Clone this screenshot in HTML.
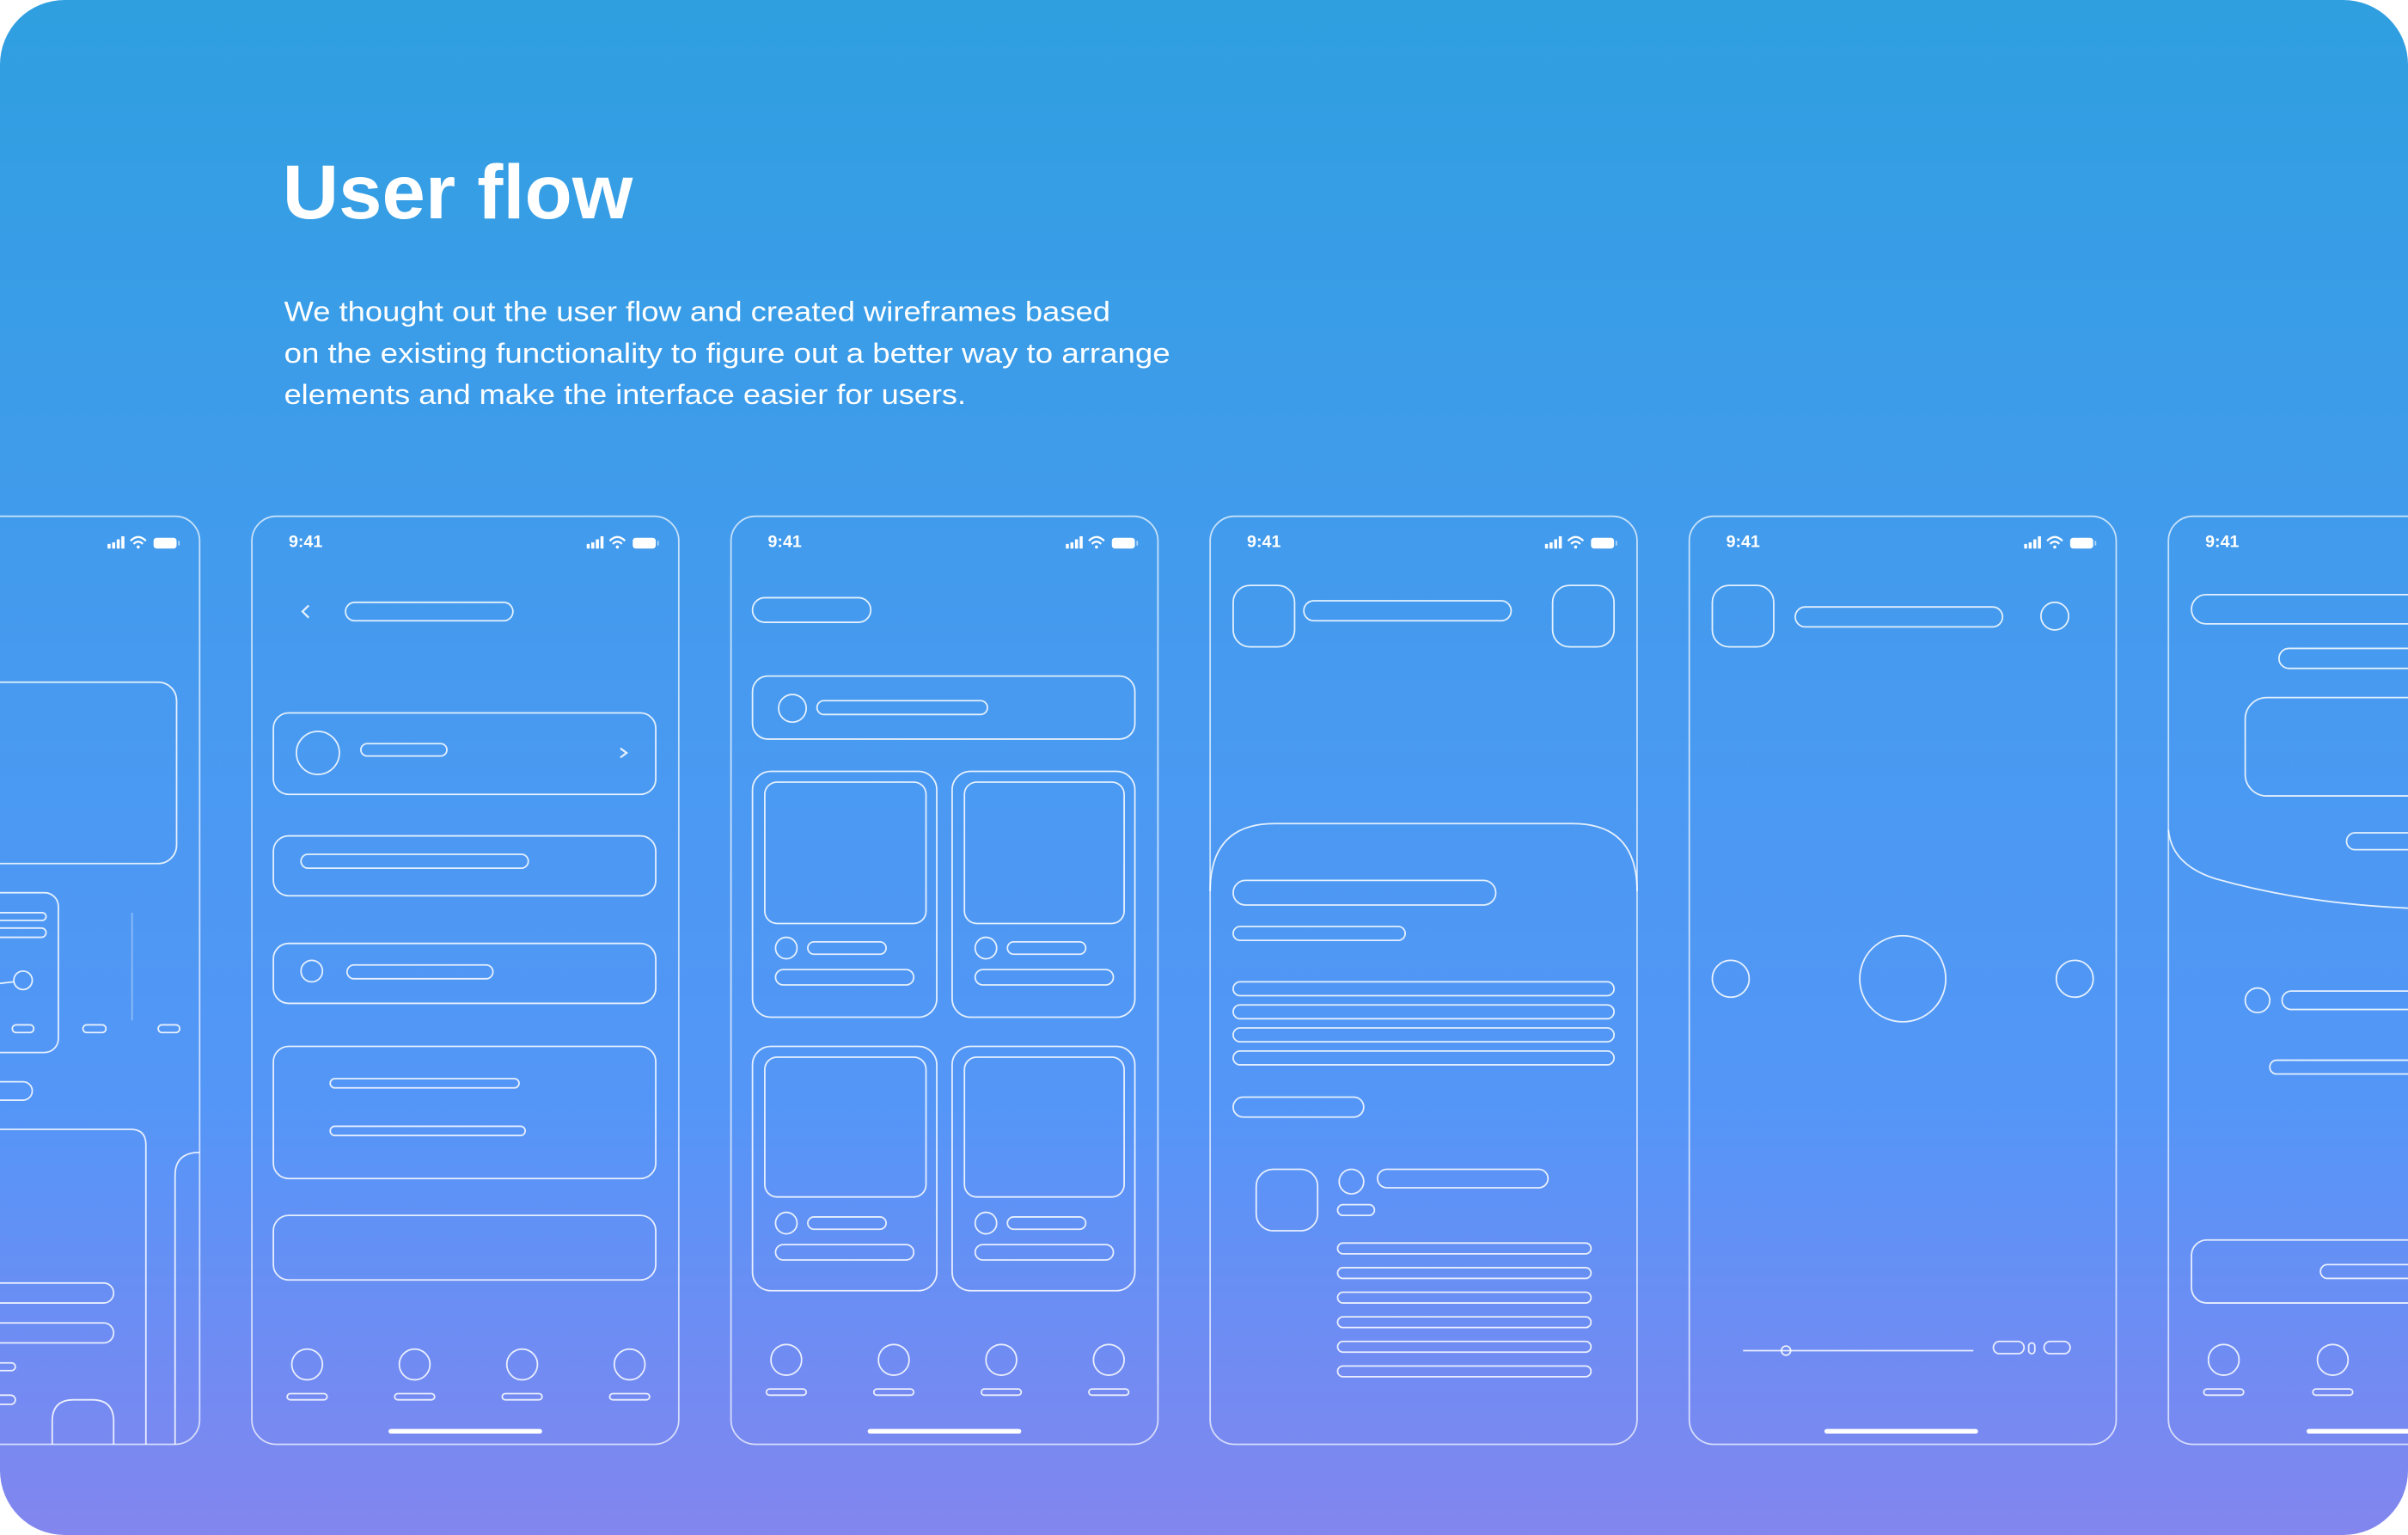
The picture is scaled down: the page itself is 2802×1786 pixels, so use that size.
<!DOCTYPE html>
<html><head><meta charset="utf-8"><style>
html,body{margin:0;padding:0;background:#fff;}
svg{display:block;}
text{font-family:"Liberation Sans",sans-serif;fill:#fff;}
</style></head><body>
<svg width="2802" height="1786" viewBox="0 0 1568 999" preserveAspectRatio="none" xmlns="http://www.w3.org/2000/svg">
<defs>
<linearGradient id="bg" x1="0" y1="0" x2="0" y2="1">
<stop offset="0" stop-color="#2f9fe0"/>
<stop offset="0.45" stop-color="#479af0"/>
<stop offset="0.72" stop-color="#5496f7"/>
<stop offset="0.88" stop-color="#6f8cf3"/>
<stop offset="1" stop-color="#8286ee"/>
</linearGradient>
<clipPath id="cl"><rect x="0" y="0" width="1568" height="999" rx="42"/></clipPath>
<symbol id="st" viewBox="0 0 50 10" width="50" height="10">
<rect x="0" y="6" width="2" height="3" fill="#fff"/><rect x="3" y="5" width="2" height="4" fill="#fff"/><rect x="6" y="3" width="2" height="6" fill="#fff"/><rect x="9" y="1" width="2" height="8" fill="#fff"/>
<path d="M15 4 Q20 -1 25 4 M17 6 Q20 3 23 6" stroke="#fff" stroke-width="1.3" fill="none"/><circle cx="20" cy="8" r="1" fill="#fff"/>
<rect x="30" y="2" width="15" height="7" rx="2" fill="#fff"/><rect x="46" y="4" width="1" height="3" fill="#fff" opacity="0.6"/>
</symbol>
</defs>
<g clip-path="url(#cl)">
<rect width="1568" height="999" fill="url(#bg)"/>
<text x="184" y="142" font-size="50" font-weight="bold" textLength="228" lengthAdjust="spacingAndGlyphs">User flow</text>
<text x="185" y="209" font-size="18" textLength="538" lengthAdjust="spacingAndGlyphs">We thought out the user flow and created wireframes based</text>
<text x="185" y="236" font-size="18" textLength="577" lengthAdjust="spacingAndGlyphs">on the existing functionality to figure out a better way to arrange</text>
<text x="185" y="263" font-size="18" textLength="444" lengthAdjust="spacingAndGlyphs">elements and make the interface easier for users.</text>

<g fill="none" stroke="#fff" stroke-opacity="0.85" stroke-width="1">
<!-- phone 0 partial -->
<rect x="-148" y="336" width="278" height="604" rx="16" stroke-opacity="0.7"/>
<rect x="-60" y="444" width="175" height="118" rx="12"/>
<rect x="-40" y="581" width="78" height="104" rx="9"/>
<rect x="-10" y="594" width="40" height="5" rx="2.5"/><rect x="-10" y="604" width="40" height="6" rx="3"/>
<circle cx="15" cy="638" r="6"/><line x1="0" y1="640" x2="9" y2="639"/>
<rect x="8" y="667" width="14" height="5" rx="2.5"/><rect x="54" y="667" width="15" height="5" rx="2.5"/><rect x="103" y="667" width="14" height="5" rx="2.5"/>
<line x1="86" y1="594" x2="86" y2="664" stroke-opacity="0.35"/>
<rect x="-20" y="704" width="41" height="12" rx="6"/>
<path d="M-10 940 V735 H85 Q95 735 95 745 V940"/>
<path d="M130 750 Q114 750 114 765 V940"/>
<rect x="-40" y="835" width="114" height="13" rx="6.5"/><rect x="-40" y="861" width="114" height="13" rx="6.5"/>
<rect x="-10" y="887" width="20" height="5" rx="2.5"/><rect x="-10" y="908" width="20" height="6" rx="3"/>
<path d="M34 940 V925 Q34 911 48 911 H60 Q74 911 74 925 V940"/>

<!-- phone 1 -->
<rect x="164" y="336" width="278" height="604" rx="16" stroke-opacity="0.7"/>
<path d="M201 394 L197 398 L201 402" stroke-width="1.3"/>
<rect x="225" y="392" width="109" height="12" rx="6"/>
<rect x="178" y="464" width="249" height="53" rx="10"/>
<circle cx="207" cy="490" r="14"/>
<rect x="235" y="484" width="56" height="8" rx="4"/>
<path d="M404 487 L408 490 L404 493" stroke-width="1.3"/>
<rect x="178" y="544" width="249" height="39" rx="10"/>
<rect x="196" y="556" width="148" height="9" rx="4.5"/>
<rect x="178" y="614" width="249" height="39" rx="10"/>
<circle cx="203" cy="632" r="7"/>
<rect x="226" y="628" width="95" height="9" rx="4.5"/>
<rect x="178" y="681" width="249" height="86" rx="10"/>
<rect x="215" y="702" width="123" height="6" rx="3"/>
<rect x="215" y="733" width="127" height="6" rx="3"/>
<rect x="178" y="791" width="249" height="42" rx="10"/>
<circle cx="200" cy="888" r="10"/><circle cx="270" cy="888" r="10"/><circle cx="340" cy="888" r="10"/><circle cx="410" cy="888" r="10"/>
<rect x="187" y="907" width="26" height="4" rx="2"/><rect x="257" y="907" width="26" height="4" rx="2"/><rect x="327" y="907" width="26" height="4" rx="2"/><rect x="397" y="907" width="26" height="4" rx="2"/>

<!-- phone 2 -->
<rect x="476" y="336" width="278" height="604" rx="16" stroke-opacity="0.7"/>
<rect x="490" y="389" width="77" height="16" rx="8"/>
<rect x="490" y="440" width="249" height="41" rx="10"/>
<circle cx="516" cy="461" r="9"/>
<rect x="532" y="456" width="111" height="9" rx="4.5"/>
<rect x="490" y="502" width="120" height="160" rx="12"/><rect x="620" y="502" width="119" height="160" rx="12"/>
<rect x="498" y="509" width="105" height="92" rx="8"/><rect x="628" y="509" width="104" height="92" rx="8"/>
<circle cx="512" cy="617" r="7"/><circle cx="642" cy="617" r="7"/>
<rect x="526" y="613" width="51" height="8" rx="4"/><rect x="656" y="613" width="51" height="8" rx="4"/>
<rect x="505" y="631" width="90" height="10" rx="5"/><rect x="635" y="631" width="90" height="10" rx="5"/>
<rect x="490" y="681" width="120" height="159" rx="12"/><rect x="620" y="681" width="119" height="159" rx="12"/>
<rect x="498" y="688" width="105" height="91" rx="8"/><rect x="628" y="688" width="104" height="91" rx="8"/>
<circle cx="512" cy="796" r="7"/><circle cx="642" cy="796" r="7"/>
<rect x="526" y="792" width="51" height="8" rx="4"/><rect x="656" y="792" width="51" height="8" rx="4"/>
<rect x="505" y="810" width="90" height="10" rx="5"/><rect x="635" y="810" width="90" height="10" rx="5"/>
<circle cx="512" cy="885" r="10"/><circle cx="582" cy="885" r="10"/><circle cx="652" cy="885" r="10"/><circle cx="722" cy="885" r="10"/>
<rect x="499" y="904" width="26" height="4" rx="2"/><rect x="569" y="904" width="26" height="4" rx="2"/><rect x="639" y="904" width="26" height="4" rx="2"/><rect x="709" y="904" width="26" height="4" rx="2"/>

<!-- phone 3 -->
<rect x="788" y="336" width="278" height="604" rx="16" stroke-opacity="0.7"/>
<rect x="803" y="381" width="40" height="40" rx="11"/>
<rect x="849" y="391" width="135" height="13" rx="6.5"/>
<rect x="1011" y="381" width="40" height="40" rx="11"/>
<path d="M788 580 Q788 536 830 536 H1024 Q1066 536 1066 580"/>
<rect x="803" y="573" width="171" height="16" rx="8"/>
<rect x="803" y="603" width="112" height="9" rx="4.5"/>
<rect x="803" y="639" width="248" height="9" rx="4.5"/><rect x="803" y="654" width="248" height="9" rx="4.5"/><rect x="803" y="669" width="248" height="9" rx="4.5"/><rect x="803" y="684" width="248" height="9" rx="4.5"/>
<rect x="803" y="714" width="85" height="13" rx="6.5"/>
<rect x="818" y="761" width="40" height="40" rx="11"/>
<circle cx="880" cy="769" r="8"/>
<rect x="897" y="761" width="111" height="12" rx="6"/>
<rect x="871" y="784" width="24" height="7" rx="3.5"/>
<rect x="871" y="809" width="165" height="7" rx="3.5"/><rect x="871" y="825" width="165" height="7" rx="3.5"/><rect x="871" y="841" width="165" height="7" rx="3.5"/><rect x="871" y="857" width="165" height="7" rx="3.5"/><rect x="871" y="873" width="165" height="7" rx="3.5"/><rect x="871" y="889" width="165" height="7" rx="3.5"/>

<!-- phone 4 -->
<rect x="1100" y="336" width="278" height="604" rx="16" stroke-opacity="0.7"/>
<rect x="1115" y="381" width="40" height="40" rx="11"/>
<rect x="1169" y="395" width="135" height="13" rx="6.5"/>
<circle cx="1338" cy="401" r="9"/>
<circle cx="1127" cy="637" r="12"/><circle cx="1239" cy="637" r="28"/><circle cx="1351" cy="637" r="12"/>
<line x1="1135" y1="879" x2="1285" y2="879"/>
<circle cx="1163" cy="879" r="3"/>
<rect x="1298" y="873" width="20" height="8" rx="4"/>
<rect x="1321" y="874" width="4" height="7" rx="2"/>
<rect x="1331" y="873" width="17" height="8" rx="4"/>

<!-- phone 5 partial -->
<rect x="1412" y="336" width="278" height="604" rx="16" stroke-opacity="0.7"/>
<rect x="1427" y="387" width="200" height="19" rx="9.5"/>
<rect x="1484" y="422" width="150" height="13" rx="6.5"/>
<rect x="1462" y="454" width="150" height="64" rx="14"/>
<path d="M1412 540 Q1414 563 1443 572 Q1500 588 1568 591"/>
<rect x="1528" y="542" width="80" height="11" rx="5.5"/>
<circle cx="1470" cy="651" r="8"/>
<rect x="1486" y="645" width="94" height="12" rx="6"/>
<rect x="1478" y="690" width="120" height="9" rx="4.5"/>
<rect x="1427" y="807" width="200" height="41" rx="10"/>
<rect x="1511" y="823" width="100" height="9" rx="4.5"/>
<circle cx="1448" cy="885" r="10"/><circle cx="1519" cy="885" r="10"/>
<rect x="1435" y="904" width="26" height="4" rx="2"/><rect x="1506" y="904" width="26" height="4" rx="2"/>
</g>

<!-- home indicators -->
<g fill="#fff">
<rect x="253" y="930" width="100" height="3" rx="1.5"/>
<rect x="565" y="930" width="100" height="3" rx="1.5"/>
<rect x="1188" y="930" width="100" height="3" rx="1.5"/>
<rect x="1502" y="930" width="100" height="3" rx="1.5"/>
</g>
<!-- status bars -->
<g font-size="11" font-weight="bold">
<text x="188" y="356">9:41</text>
<text x="500" y="356">9:41</text>
<text x="812" y="356">9:41</text>
<text x="1124" y="356">9:41</text>
<text x="1436" y="356">9:41</text>
</g>
<use href="#st" x="70" y="348" width="50" height="10"/>
<use href="#st" x="382" y="348" width="50" height="10"/>
<use href="#st" x="694" y="348" width="50" height="10"/>
<use href="#st" x="1006" y="348" width="50" height="10"/>
<use href="#st" x="1318" y="348" width="50" height="10"/>
</g>
</svg>
</body></html>
